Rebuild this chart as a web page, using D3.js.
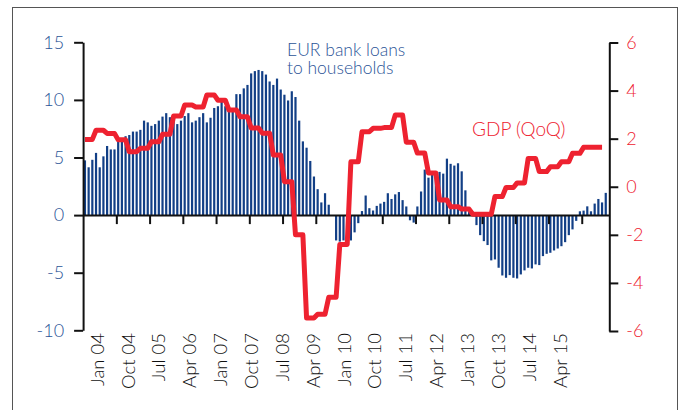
<!DOCTYPE html>
<html>
<head>
<meta charset="utf-8">
<script src="https://cdn.jsdelivr.net/npm/d3@7"></script>
<style>
  body { margin: 0; background: #fff; }
  svg { display: block; font-family: Lato, "Open Sans", sans-serif; font-weight: 300; }
</style>
</head>
<body>
<script>
let width = 680;
let height = 410;

// EUR bank loans to households, % y/y, monthly from Jan 04 (index 0) to Oct 15
let loans = [
  4.75, 4.15, 4.8, 5.4, 4.15, 5.1, 6.0, 5.7, 5.7, 6.5, 6.35, 6.85,
  6.95, 7.25, 7.25, 7.4, 8.2, 8.05, 7.75, 7.9, 8.2, 8.55, 8.85, 8.5,
  8.1, 7.9, 8.2, 8.6, 8.85, 8.05, 8.2, 8.5, 8.85, 8.05, 8.45, 9.3,
  9.45, 9.9, 9.45, 9.15, 9.0, 10.5, 10.5, 11.0, 11.3, 12.3, 12.5, 12.6,
  12.5, 12.2, 11.6, 11.3, 11.85, 10.9, 10.45, 9.95, 10.75, 10.25, 8.2, 6.4,
  5.85, 4.7, 3.35, 2.25, 1.1, 1.9, 0.9, 0.0, -2.2, -2.3, -2.2, -2.3,
  -2.2, -1.5, -0.7, 0.35, 1.7, 0.6, 0.4, 0.8, 1.0, 1.15, 1.9, 1.4,
  1.8, 2.0, 1.3, 0.75, -0.45, -0.65, 0.75, 2.05, 3.95, 3.25, 3.65, 3.5,
  3.75, 3.6, 4.9, 4.45, 4.3, 4.5, 3.8, 2.15, 0.6, 0.3, -0.87, -1.74,
  -2.26, -2.6, -3.93, -3.85, -4.57, -5.24, -5.44, -5.21, -5.44, -5.5, -5.15, -4.8,
  -4.57, -4.63, -4.28, -4.34, -3.56, -3.36, -3.27, -3.07, -2.9, -2.7, -2.35, -1.74,
  -1.24, -0.5, 0.33, 0.39, 0.76, 0.33, 1.0, 1.4, 1.1, 1.93
];

// GDP, quarterly from 2004 Q1 to 2015 Q3
let gdp = [
  1.97, 2.35, 2.22, 1.95,
  1.46, 1.6, 1.87, 2.18,
  2.94, 3.4, 3.32, 3.82,
  3.6, 3.19, 2.91, 2.44,
  2.23, 1.32, 0.21, -2.0,
  -5.46, -5.3, -4.6, -2.4,
  1.04, 2.29, 2.43, 2.46,
  2.98, 1.85, 1.4, 0.57,
  -0.55, -0.83, -0.93, -1.14,
  -1.14, -0.41, -0.03, 0.16,
  1.18, 0.63, 0.83, 1.04,
  1.39, 1.64, 1.64
];

let xLabels = ["Jan 04", "Oct 04", "Jul 05", "Apr 06", "Jan 07", "Oct 07", "Jul 08", "Apr 09",
               "Jan 10", "Oct 10", "Jul 11", "Apr 12", "Jan 13", "Oct 13", "Jul 14", "Apr 15"];
let leftTicks = [-10, -5, 0, 5, 10, 15];
let rightTicks = [-6, -4, -2, 0, 2, 4, 6];

let blue = "#123f86";
let blueText = "#2b5497";
let red = "#ee2230";
let font = "Lato, 'Open Sans', sans-serif";

let svg = d3.select("body").append("svg")
            .attr("width", width)
            .attr("height", height);

// frame (bottom edge runs off the picture)
svg.append("rect")
   .attr("x", 12.5).attr("y", 7.5)
   .attr("width", 665).attr("height", 420)
   .attr("fill", "none")
   .attr("stroke", "#555")
   .attr("stroke-width", 1);

let x = d3.scaleLinear().domain([0, 142.46]).range([83.1, 609.3]);
let yL = d3.scaleLinear().domain([-10, 15]).range([330.3, 42.3]);
let yR = d3.scaleLinear().domain([-6, 6]).range([331, 42.5]);

// bars
svg.append("g").selectAll("rect").data(loans).enter().append("rect")
   .attr("x", (d, i) => x(i + 0.5) - 1.1)
   .attr("width", 2.2)
   .attr("y", d => yL(Math.max(0, d)))
   .attr("height", d => Math.abs(yL(d) - yL(0)))
   .attr("fill", blue);

let plain = d => String(d);  // hyphen minus, as in the original

function styleAxis(g, color) {
  g.attr("font-family", font).attr("font-size", 18);
  g.select(".domain").attr("stroke", "#111").attr("stroke-width", 2);
  g.selectAll(".tick line").attr("stroke", "#111").attr("stroke-width", 2);
  g.selectAll(".tick text").attr("fill", color).style("font-weight", 300);
}

// left axis
let axL = svg.append("g")
   .attr("transform", "translate(" + x(0) + ",0)")
   .call(d3.axisLeft(yL).tickValues(leftTicks).tickFormat(plain).tickSize(9).tickSizeOuter(0).tickPadding(10));
styleAxis(axL, blueText);

// right axis
let axR = svg.append("g")
   .attr("transform", "translate(" + x.range()[1] + ",0)")
   .call(d3.axisRight(yR).tickValues(rightTicks).tickFormat(plain).tickSize(9).tickSizeOuter(0).tickPadding(8));
styleAxis(axR, red);

// bottom axis at zero, ticks every 9 months
let axB = svg.append("g")
   .attr("transform", "translate(0," + yL(0) + ")")
   .call(d3.axisBottom(x).tickValues(d3.range(9, 142, 9)).tickSize(9).tickSizeOuter(0).tickFormat(""));
styleAxis(axB, "#111");

// date labels (not aligned with the ticks in the original)
let xl = d3.scalePoint().domain(xLabels).range([97.3, 560]);
svg.append("g").selectAll("text").data(xLabels).enter().append("text")
   .attr("transform", d => "translate(" + (xl(d) + 6.5) + ",333) rotate(-90)")
   .attr("text-anchor", "end")
   .attr("fill", "#111")
   .style("font-size", "18.5px")
   .text(d => d);

// GDP line, each quarter held across its months
let pts = [];
gdp.forEach((v, q) => {
  pts.push([3 * q + 0.5, v]);
  pts.push([3 * q + 2.5, v]);
});
let line = d3.line().x(d => x(d[0])).y(d => yR(d[1]));
svg.append("path")
   .datum(pts)
   .attr("d", line)
   .attr("fill", "none")
   .attr("stroke", red)
   .attr("stroke-width", 5)
   .attr("stroke-linejoin", "round");

// annotations
svg.append("text")
   .attr("x", 287).attr("y", 55.5)
   .attr("fill", blueText)
   .style("font-size", "17.5px")
   .text("EUR bank loans");
svg.append("text")
   .attr("x", 287).attr("y", 73.5)
   .attr("fill", blueText)
   .style("font-size", "17.5px")
   .text("to households");

svg.append("text")
   .attr("x", 472).attr("y", 136)
   .attr("fill", red)
   .style("font-size", "19px")
   .text("GDP (QoQ)");
</script>
</body>
</html>
